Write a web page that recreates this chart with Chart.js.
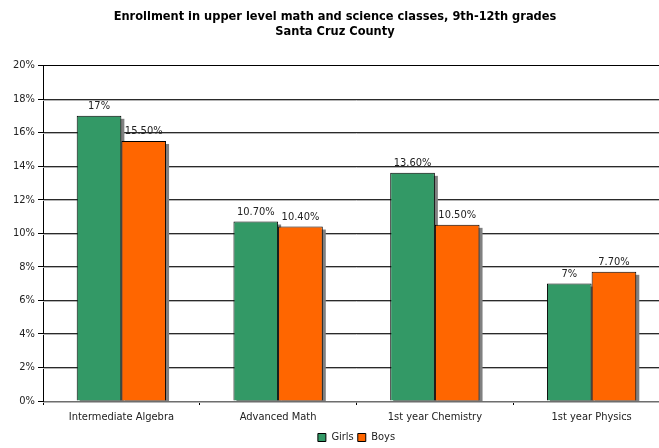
<!DOCTYPE html>
<html>
<head>
<meta charset="utf-8">
<script src="https://cdn.jsdelivr.net/npm/chart.js@4/dist/chart.umd.min.js"></script>
<style>
  html, body { margin: 0; padding: 0; background: #fff; overflow: hidden; }
  #wrap { width: 670px; height: 448px; }
</style>
</head>
<body>
<div id="wrap"><canvas id="chart" width="670" height="448"></canvas></div>
<script>
// Chart data
const categories = ['Intermediate Algebra', 'Advanced Math', '1st year Chemistry', '1st year Physics'];
const girls = [17, 10.7, 13.6, 7];
const boys = [15.5, 10.4, 10.5, 7.7];
const seriesNames = ['Girls', 'Boys'];
const titleLines = ['Enrollment in upper level math and science classes, 9th-12th grades', 'Santa Cruz County'];
const yMin = 0, yMax = 20, yStep = 2;

const FONT = '"DejaVu Sans Condensed", "DejaVu Sans", Tahoma, sans-serif';
const TEXT = '#222';

// Percent label: whole numbers plain, others with two decimals
function pctLabel(v) {
  return Number.isInteger(v) ? v + '%' : v.toFixed(2) + '%';
}

// Same half-pixel alignment the library uses for 1px lines
function align(px) {
  return Math.round(px - 0.5) + 0.5;
}

// Gray drop shadow behind each bar, and a soft shadow under each grid line
const shadowPlugin = {
  id: 'shadows',
  beforeDatasetsDraw(chart) {
    const ctx = chart.ctx;
    const area = chart.chartArea;
    const yScale = chart.scales.y;
    ctx.save();
    ctx.strokeStyle = '#b4b4b4';
    ctx.lineWidth = 1;
    yScale.ticks.forEach(t => {
      if (t.value >= yMax) return;
      const py = align(yScale.getPixelForValue(t.value)) + 1;
      ctx.beginPath();
      ctx.moveTo(area.left, py);
      ctx.lineTo(area.right, py);
      ctx.stroke();
    });
    ctx.beginPath();
    ctx.rect(area.left, area.top, area.right - area.left, area.bottom - area.top);
    ctx.clip();
    ctx.fillStyle = '#808080';
    chart.data.datasets.forEach((ds, i) => {
      const meta = chart.getDatasetMeta(i);
      meta.data.forEach(bar => {
        const p = bar.getProps(['x', 'y', 'base', 'width'], true);
        ctx.fillRect(p.x - p.width / 2 + 3, p.y + 3, p.width, p.base - p.y);
      });
    });
    ctx.restore();
  }
};

// Value labels above the bars
const valueLabelPlugin = {
  id: 'valueLabels',
  afterDatasetsDraw(chart) {
    const ctx = chart.ctx;
    ctx.save();
    ctx.font = '11px ' + FONT;
    ctx.fillStyle = TEXT;
    ctx.textAlign = 'center';
    ctx.textBaseline = 'bottom';
    chart.data.datasets.forEach((ds, i) => {
      const meta = chart.getDatasetMeta(i);
      meta.data.forEach((bar, j) => {
        const p = bar.getProps(['x', 'y'], true);
        ctx.fillText(pctLabel(ds.data[j]), p.x, p.y - 4);
      });
    });
    ctx.restore();
  }
};

new Chart(document.getElementById('chart'), {
  type: 'bar',
  data: {
    labels: categories,
    datasets: [
      { label: seriesNames[0], data: girls, backgroundColor: '#339966', borderColor: '#000', borderWidth: 1 },
      { label: seriesNames[1], data: boys, backgroundColor: '#ff6600', borderColor: '#000', borderWidth: 1 }
    ]
  },
  options: {
    responsive: false,
    animation: false,
    layout: { padding: { left: 0, right: 0, top: 0, bottom: -5 } },
    datasets: { bar: { categoryPercentage: 0.57, barPercentage: 1 } },
    plugins: {
      title: {
        display: true,
        text: titleLines,
        color: '#000',
        font: { family: FONT, size: 12.7, weight: 'bold', lineHeight: 1.2 },
        padding: { top: 9, bottom: 26 }
      },
      legend: {
        position: 'bottom',
        fullSize: false,
        labels: {
          color: TEXT,
          font: { family: FONT, size: 11 },
          boxWidth: 8,
          boxHeight: 8,
          padding: 4,
          generateLabels(chart) {
            return chart.data.datasets.map((ds, i) => ({
              text: ds.label,
              fillStyle: ds.backgroundColor,
              strokeStyle: '#000',
              lineWidth: 1,
              fontColor: TEXT,
              datasetIndex: i
            }));
          }
        }
      },
      tooltip: { enabled: false }
    },
    scales: {
      x: {
        afterFit(scale) { scale.height = 27; },
        grid: { offset: true, drawOnChartArea: false, tickLength: 4, color: '#000' },
        border: { color: '#6e6e6e', width: 1 },
        ticks: { color: TEXT, font: { family: FONT, size: 11 }, padding: 6, maxRotation: 0 }
      },
      y: {
        min: yMin,
        max: yMax,
        afterFit(scale) { scale.width = 43; },
        grid: {
          color: ctx => (ctx.tick && ctx.tick.value === yMin ? '#6e6e6e' : ctx.tick && ctx.tick.value === yMax ? '#000' : '#2a2a2a'),
          tickLength: 5,
          tickColor: '#000'
        },
        border: { color: '#000', width: 1 },
        ticks: {
          stepSize: yStep,
          color: TEXT,
          font: { family: FONT, size: 11 },
          padding: 3,
          callback: v => v + '%'
        }
      }
    }
  },
  plugins: [shadowPlugin, valueLabelPlugin]
});
</script>
</body>
</html>
